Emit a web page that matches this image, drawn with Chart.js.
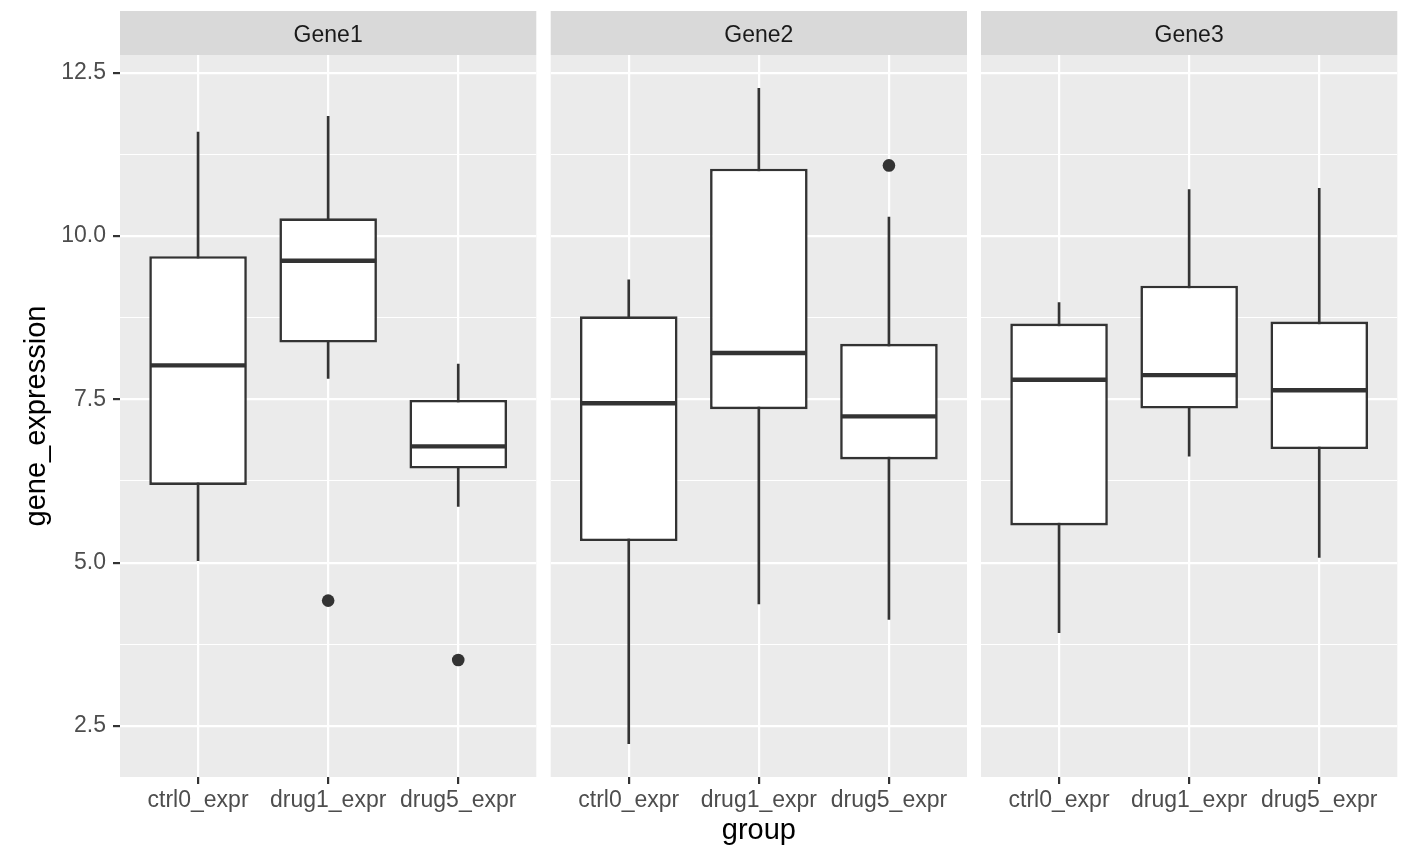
<!DOCTYPE html>
<html>
<head>
<meta charset="utf-8">
<script src="https://cdn.jsdelivr.net/npm/chart.js@4/dist/chart.umd.min.js"></script>
<style>
  body { margin: 0; background: #fff; }
  canvas { position: absolute; left: 0; top: 0; }
</style>
</head>
<body>
<canvas id="c0" width="1408" height="860"></canvas>
<canvas id="c1" width="1408" height="860"></canvas>
<canvas id="c2" width="1408" height="860"></canvas>
<script>
// ================= DATA =================
const genes = ['Gene1', 'Gene2', 'Gene3'];
const groups = ['ctrl0_expr', 'drug1_expr', 'drug5_expr'];

// one row per gene, one value per group
const whiskerLow  = [[5.03, 7.82, 5.86], [2.23, 4.37, 4.13], [3.93, 6.63, 5.08]];
const lowerQ      = [[6.19, 8.37, 6.44], [5.33, 7.35, 6.58], [5.57, 7.36, 6.74]];
const medians     = [[8.02, 9.62, 6.78], [7.44, 8.21, 7.24], [7.80, 7.87, 7.64]];
const upperQ      = [[9.69, 10.27, 7.49], [8.77, 11.03, 8.35], [8.66, 9.24, 8.69]];
const whiskerHigh = [[11.59, 11.83, 8.04], [9.33, 12.26, 10.29], [8.98, 10.71, 10.73]];

// outliers: group index (0-based) and value
const outlierGroup = [[1, 2], [2], []];
const outlierValue = [[4.42, 3.51], [11.08], []];

const yTicks = [2.5, 3.75, 5, 6.25, 7.5, 8.75, 10, 11.25, 12.5];

// ================= LAYOUT =================
const panelLeft = [120, 550.7, 981];
const panelWidth = 416.3;
const LINE = '#333333';
const FONT = "'Liberation Sans', Arial, Helvetica, sans-serif";

const isMajor = v => Math.abs(v / 2.5 - Math.round(v / 2.5)) < 1e-6;

// panel background + facet strip
const facetPlugin = {
    id: 'facet',
    beforeDraw(chart, args, opts) {
        const { ctx, chartArea: a } = chart;
        ctx.save();
        ctx.fillStyle = '#EBEBEB';
        ctx.fillRect(a.left, a.top, a.right - a.left, a.bottom - a.top);
        ctx.fillStyle = '#D9D9D9';
        ctx.fillRect(a.left, 11, a.right - a.left, 44);
        ctx.fillStyle = '#1A1A1A';
        ctx.font = '23px ' + FONT;
        ctx.textAlign = 'center';
        ctx.textBaseline = 'middle';
        ctx.fillText(opts.label, (a.left + a.right) / 2, 35.5);
        ctx.restore();
    }
};

function makePanel(i) {
    const first = i === 0;
    const xs = [1, 2, 3];

    const outliers = outlierGroup[i].map((g, k) => ({ x: g + 1, y: outlierValue[i][k] }));

    return new Chart(document.getElementById('c' + i), {
        type: 'bar',
        data: {
            datasets: [
                {   // whiskers
                    type: 'bar',
                    data: xs.map((x, k) => ({ x, y: [whiskerLow[i][k], whiskerHigh[i][k]] })),
                    backgroundColor: LINE,
                    borderWidth: 0,
                    barThickness: 2,
                    grouped: false,
                    order: 3
                },
                {   // boxes
                    type: 'bar',
                    data: xs.map((x, k) => ({ x, y: [lowerQ[i][k], upperQ[i][k]] })),
                    backgroundColor: '#FFFFFF',
                    borderColor: LINE,
                    borderWidth: 2.6,
                    borderSkipped: false,
                    grouped: false,
                    categoryPercentage: 1,
                    barPercentage: 0.75,
                    order: 2
                },
                {   // medians
                    type: 'scatter',
                    data: xs.map((x, k) => ({ x, y: medians[i][k] })),
                    pointStyle: 'line',
                    pointRadius: 48,
                    pointBorderWidth: 4.4,
                    pointBorderColor: LINE,
                    order: 1
                },
                {   // outliers
                    type: 'scatter',
                    data: outliers,
                    pointStyle: 'circle',
                    pointRadius: 6.3,
                    pointBorderWidth: 0,
                    pointBackgroundColor: LINE,
                    order: 0
                }
            ]
        },
        options: {
            responsive: false,
            devicePixelRatio: 1,
            animation: false,
            events: [],
            layout: {
                autoPadding: false,
                padding: { left: first ? 0 : panelLeft[i], right: 1408 - panelLeft[i] - panelWidth, top: 55, bottom: 0 }
            },
            plugins: {
                legend: { display: false },
                tooltip: { enabled: false },
                facet: { label: genes[i] }
            },
            scales: {
                x: {
                    type: 'linear',
                    min: 0.4,
                    max: 3.6,
                    offset: false,
                    afterBuildTicks: s => { s.ticks = xs.map(v => ({ value: v })); },
                    afterFit: s => {
                        s.height = 83;
                        // labels may hang over the panel edge, like in ggplot
                        s.paddingLeft = 0;
                        s.paddingRight = 0;
                    },
                    ticks: {
                        autoSkip: false,
                        maxRotation: 0,
                        padding: 2.5,
                        color: '#4D4D4D',
                        font: { family: FONT, size: 23 },
                        callback: (v, idx) => groups[idx]
                    },
                    grid: {
                        offset: false,
                        color: '#FFFFFF',
                        lineWidth: 2.2,
                        tickColor: LINE,
                        tickLength: 7,
                        tickWidth: 2.2
                    },
                    border: { display: false },
                    title: {
                        display: i === 1,
                        text: 'group',
                        color: '#000000',
                        font: { family: FONT, size: 29 },
                        padding: { top: 0, bottom: 12 }
                    }
                },
                y: {
                    min: 1.72,
                    max: 12.77,
                    afterBuildTicks: s => { s.ticks = yTicks.map(v => ({ value: v })); },
                    afterFit: s => {
                        s.width = first ? 120 : 0;
                        s.paddingTop = 0;
                        s.paddingBottom = 0;
                    },
                    ticks: {
                        display: first,
                        autoSkip: false,
                        padding: 7,
                        color: '#4D4D4D',
                        font: { family: FONT, size: 23 },
                        callback: v => isMajor(v) ? v.toFixed(1) : ''
                    },
                    grid: {
                        color: '#FFFFFF',
                        lineWidth: c => isMajor(c.tick.value) ? 2.2 : 1.1,
                        tickColor: c => isMajor(c.tick.value) ? LINE : 'rgba(0,0,0,0)',
                        drawTicks: first,
                        tickLength: 7,
                        tickWidth: 2.2
                    },
                    border: { display: false },
                    title: {
                        display: first,
                        text: 'gene_expression',
                        color: '#000000',
                        font: { family: FONT, size: 29 },
                        padding: { top: 20, bottom: 0 }
                    }
                }
            }
        },
        plugins: [facetPlugin]
    });
}

// ================= INIT =================
genes.forEach((g, i) => makePanel(i));
</script>
</body>
</html>
